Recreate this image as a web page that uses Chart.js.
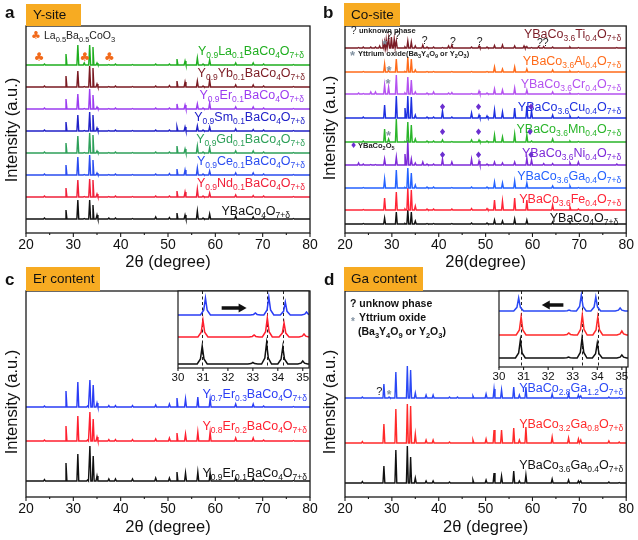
<!DOCTYPE html>
<html><head><meta charset="utf-8">
<script src="https://cdn.jsdelivr.net/npm/chart.js@4.4.1/dist/chart.umd.min.js"></script>
<style>
html,body{margin:0;padding:0;background:#fff;}
#wrap{position:relative;width:638px;height:540px;overflow:hidden;background:#fff;}
canvas{position:absolute;left:0;top:0;}
.box{position:absolute;background:#f7ab22;font:13.5px "Liberation Sans",Arial,sans-serif;color:#111;box-sizing:border-box;padding-left:7px;}
.lab{position:absolute;font:bold 17px "Liberation Sans",Arial,sans-serif;color:#111;line-height:20px;}
</style></head><body><div id="wrap">
<canvas id="ca" width="638" height="540"></canvas>
<canvas id="cb" width="638" height="540"></canvas>
<canvas id="cc" width="638" height="540"></canvas>
<canvas id="cd" width="638" height="540"></canvas>
<canvas id="ci" width="638" height="540"></canvas>
<canvas id="cj" width="638" height="540"></canvas>
<div class="lab" style="left:5px;top:3px">a</div>
<div class="box" style="left:26px;top:4px;width:55px;height:22px;line-height:22px">Y-site</div>
<div class="lab" style="left:323px;top:3px">b</div>
<div class="box" style="left:344px;top:3px;width:56px;height:23px;line-height:23px">Co-site</div>
<div class="lab" style="left:5px;top:270px">c</div>
<div class="box" style="left:26px;top:267px;width:74px;height:24px;line-height:24px">Er content</div>
<div class="lab" style="left:324px;top:270px">d</div>
<div class="box" style="left:344px;top:267px;width:79px;height:24px;line-height:24px">Ga content</div>
</div>
<script>
// ---------------- DATA ----------------
const xTicks = [20, 30, 40, 50, 60, 70, 80];
const insetTicks = [30, 31, 32, 33, 34, 35];

// Panel a : Y-site (2θ positions and intensities, a.u.)
const aPos = [23.9, 28.45, 30.95, 32.3, 33.45, 34.15, 35.0, 37.5, 38.9, 42.5, 47.4, 50.3, 51.9, 53.6, 56.2, 57.4, 58.8, 64.3, 68.0, 70.2, 76.5];
const aLa = [1, 11, 20, 2, 20, 18, 2, 0.5, 1, 0.5, 1, 1, 6, 4, 7, 1, 5, 2, 2, 1, 0.5];
const aYb = [1, 11, 16, 0.5, 21, 19, 3, 0.5, 1, 0.5, 1, 1.5, 6, 5, 6, 1, 7, 2, 2, 1, 0.5];
const aEr = [1, 10, 15, 0.5, 20, 14, 2, 0.5, 1, 0.5, 1, 1, 5, 4, 5, 1, 6, 2, 2, 1, 0.5];
const aSm = [1, 9, 16, 0.5, 19, 16, 3, 0.5, 1, 0.5, 1, 1, 4, 4, 5, 1, 4, 2, 1.5, 1, 0.5];
const aGd = [1, 10, 17, 0.5, 20, 18, 2, 0.5, 1, 0.5, 1, 1, 7, 4, 7, 1, 5, 2, 2, 1, 0.5];
const aCe = [1, 10, 18, 0.5, 20, 15, 2, 0.5, 1, 0.5, 1, 1.5, 6, 5, 7, 1, 4, 2, 2, 1, 0.5];
const aNd = [1, 9, 17, 0.5, 18, 17, 3, 0.5, 1, 0.5, 1, 1, 6, 5, 8, 1, 4, 2, 1.5, 1, 0.5];
const aY  = [1, 9, 19, 0.5, 19, 14, 4, 1, 1, 0.5, 2, 1.5, 6, 4, 8, 1, 5, 3, 2, 1, 0.5];
const aNames = ['Y_{0.9}La_{0.1}BaCo_{4}O_{7+δ}','Y_{0.9}Yb_{0.1}BaCo_{4}O_{7+δ}','Y_{0.9}Er_{0.1}BaCo_{4}O_{7+δ}','Y_{0.9}Sm_{0.1}BaCo_{4}O_{7+δ}','Y_{0.9}Gd_{0.1}BaCo_{4}O_{7+δ}','Y_{0.9}Ce_{0.1}BaCo_{4}O_{7+δ}','Y_{0.9}Nd_{0.1}BaCo_{4}O_{7+δ}','YBaCo_{4}O_{7+δ}'];
const aClubs = [22.75, 32.45, 37.6];

// Panel b : Co-site
const bPos = [22.9, 23.9, 25.5, 26.5, 27.4, 28.1, 28.45, 28.8, 29.3, 29.9, 30.5, 30.95, 32.8, 33.4, 34.15, 35.0, 36.6, 37.5, 38.9, 40.8, 42.1, 42.8, 47.0, 48.6, 50.3, 51.9, 53.6, 56.2, 58.2, 58.8, 59.8, 61.3, 62.4, 64.3, 68.0, 69.8, 78.0];
const bTi = [0.5,1,1,1,2,4,6,8,10,11,9,7,1,7,6,2,3,1,1,0.5,2,3,1,2,1,2.5,3,2,2,1.5,0.5,1.5,1.5,1,1,0.5,0.5];
const bAl = [0,0.5,0,0,0,0,8,0,1.5,0,0,13,0.5,15,13,2,0,0.5,0.5,0,0,0.5,0.5,0,0.5,5,3,5,0,3,0,0,0,2,1,0.5,0];
const bCr = [1,0.5,2,2,0,0,9,0,7,0,0,19,1,17,14,2,0,1,2,0,1,1.5,0.5,3,1,5,4,6,0,4,0,0,0,2,1,0.5,0];
const bCu = [0,1,0,0,0,0,13,0,0,0,0,22,10,22,21,3,0,1,1,7,0,1,5,3,2,8,6,10,0,12,7,0,0,3,2,1,0];
const bMn = [0,1,0,0,0,0,13,0,3,0,0,23,0.5,20,17,3,0,1,1,2,0,0.5,2,2,1,7,5,8,0,7,1,0,0,3,1,0.5,0];
const bNi = [2,1,0.5,0.5,0,0,6,0,0,0,0,8,11,25,6,2,3,1,1,6,0,3,6,4,1,3,2,3,0,7,5,0,1.5,1.5,2,3,1];
const bGa = [0,0.5,0,0,0,0,9,0,0,0,0,18,0.5,20,15,3,0,1,1,0,0,0.5,1,0,1,6,5,7,0,5,0,0,0,2,2,0.5,0];
const bFe = [0,0.5,0,0,0,0,12,0,0,0,0,18,1,22,20,4,0,1,1,0,0,1,1.5,0,1.5,10,9,12,0,10,0,0,0,5,3,1,0];
const bY  = [0,0.5,0,0,0,0,6,0,0,0,0,12,0.5,14,12,3,0,0.5,0.5,0,0,0.5,1,0,1,4,3,5,0,4,0,0,0,2,1.5,0.5,0];
const bNames = ['YBaCo_{3.6}Ti_{0.4}O_{7+δ}','YBaCo_{3.6}Al_{0.4}O_{7+δ}','YBaCo_{3.6}Cr_{0.4}O_{7+δ}','YBaCo_{3.6}Cu_{0.4}O_{7+δ}','YBaCo_{3.6}Mn_{0.4}O_{7+δ}','YBaCo_{3.6}Ni_{0.4}O_{7+δ}','YBaCo_{3.6}Ga_{0.4}O_{7+δ}','YBaCo_{3.6}Fe_{0.4}O_{7+δ}','YBaCo_{4}O_{7+δ}'];
const bUnknown = [29.4, 31.2, 37.0, 43.0, 48.75, 61.6, 62.8];
const bDiamonds = [40.8, 48.5, 59.7];

// Panel c : Er content
const cPos = [23.9, 28.45, 30.95, 33.0, 33.5, 34.2, 35.0, 37.5, 38.9, 42.5, 47.4, 50.3, 51.9, 53.7, 56.3, 58.9, 64.3, 68.0, 70.2, 76.5];
const cEr3 = [1, 16, 25, 1, 27, 22, 4, 1.5, 1.5, 1.5, 2, 3, 9, 8, 10, 8, 3, 3, 1, 0.5];
const cEr2 = [1, 15, 25, 1, 29, 22, 4, 1.5, 1.5, 1.5, 2, 3, 8, 7, 9, 9, 3, 3, 1, 0.5];
const cEr1 = [1.5, 18, 27, 1, 35, 25, 5, 2, 2, 2, 3, 3, 9, 8, 9, 8, 3, 3, 1, 0.5];
const cNames = ['Y_{0.7}Er_{0.3}BaCo_{4}O_{7+δ}','Y_{0.8}Er_{0.2}BaCo_{4}O_{7+δ}','Y_{0.9}Er_{0.1}BaCo_{4}O_{7+δ}'];
// inset c (30-35°)
const ciEr3Pos = [31.1, 33.1, 33.64, 34.3, 35.15];  const ciEr3 = [17, 2, 18, 13, 3];
const ciEr2Pos = [31.0, 33.05, 33.58, 34.25, 35.05]; const ciEr2 = [17, 2, 19, 14, 3];
const ciEr1Pos = [30.97, 33.0, 33.55, 34.2, 35.0];  const ciEr1 = [18, 1.5, 21, 17, 3];
const ciRef = [30.97, 33.55, 34.2];

// Panel d : Ga content
const dPos = [23.7, 28.3, 29.4, 30.85, 33.3, 34.0, 35.0, 37.3, 38.8, 42.3, 44.0, 47.3, 50.1, 51.8, 53.4, 56.0, 57.2, 58.6, 64.2, 67.7, 69.8, 70.3, 76.3, 78.5];
const dGa12 = [1, 14, 1, 26, 32, 28, 5, 3, 3, 1, 1, 2, 4, 9, 8, 11, 3, 11, 4, 4, 3, 2, 1, 0.5];
const dGa08 = [1.5, 19, 0, 34, 39, 37, 9, 3, 3, 1, 0, 3, 4, 13, 13, 15, 3, 16, 6, 5, 4, 3, 2, 1];
const dGa04 = [1.5, 17, 0, 33, 37, 26, 5, 2, 2, 1, 0, 3, 3, 10, 7, 12, 2, 8, 4, 3, 2, 2, 1, 0.5];
const dNames = ['YBaCo_{2.8}Ga_{1.2}O_{7+δ}','YBaCo_{3.2}Ga_{0.8}O_{7+δ}','YBaCo_{3.6}Ga_{0.4}O_{7+δ}'];
// inset d (30-35°)
const diGa12Pos = [30.8, 32.85, 33.35, 33.94, 34.93]; const diGa12 = [13, 1, 16, 14, 3];
const diGa08Pos = [30.9, 32.84, 33.39, 34.02, 35.0]; const diGa08 = [18, 2, 20, 18, 4];
const diGa04Pos = [30.87, 32.83, 33.38, 34.0, 35.0]; const diGa04 = [18, 1, 20, 15, 3];
const diRef = [30.9, 33.39, 34.02];

// ---------------- RENDER ----------------
const FONT = '"Liberation Sans", Arial, Helvetica, sans-serif';
const SYM = '"DejaVu Sans", sans-serif';

function trace(pos, vals, base, w, xmin, xmax, shaped){
  const pts = [{x:xmin, y:base}];
  pos.forEach((p,i)=>{ const h = vals[i]; if(!h) return;
    if(shaped) pts.push({x:p-w,y:base},{x:p-w*0.35,y:base+h*0.28},{x:p,y:base+h},{x:p+w*0.35,y:base+h*0.28},{x:p+w,y:base});
    else pts.push({x:p-w,y:base},{x:p,y:base+h},{x:p+w,y:base});
  });
  pts.push({x:xmax, y:base});
  return pts;
}
function parseRich(s){ const out=[]; const re=/_\{([^}]*)\}/g; let last=0,m;
  while((m=re.exec(s))){ if(m.index>last) out.push({t:s.slice(last,m.index),sub:false}); out.push({t:m[1],sub:true}); last=re.lastIndex; }
  if(last<s.length) out.push({t:s.slice(last),sub:false}); return out; }
function drawRich(ctx, s, x, y, o){
  const parts = parseRich(s);
  const setF = p => ctx.font = (o.bold?'bold ':'') + (p.sub?o.sub:o.size) + 'px ' + (o.family||FONT);
  let total = 0; parts.forEach(p=>{ setF(p); total += ctx.measureText(p.t).width; });
  let cx = o.align==='right' ? x-total : (o.align==='center' ? x-total/2 : x);
  ctx.fillStyle = o.color || '#111'; ctx.textAlign='left'; ctx.textBaseline='alphabetic';
  parts.forEach(p=>{ setF(p); ctx.fillText(p.t, cx, y + (p.sub?(o.subDy||3):0)); cx += ctx.measureText(p.t).width; });
}
function deco(P){ return { id:'deco',
  beforeDatasetsDraw(chart){ const c=chart.ctx, a=chart.chartArea; c.save();
    if(P.white){ c.fillStyle='#fff'; c.fillRect(a.left,a.top,a.right-a.left,a.bottom-a.top); }
    if(P.dashed){ c.setLineDash([3,2.5]); c.strokeStyle='#222'; c.lineWidth=1;
      P.dashed.forEach(v=>{ const x=Math.round(chart.scales.x.getPixelForValue(v))+0.5; c.beginPath(); c.moveTo(x,a.top); c.lineTo(x,a.bottom); c.stroke(); }); }
    c.restore(); },
  afterDraw(chart){ const c=chart.ctx, a=chart.chartArea, sx=chart.scales.x, sy=chart.scales.y; c.save();
    c.strokeStyle='#1a1a1a'; c.lineWidth=P.frameW; c.setLineDash([]);
    c.strokeRect(a.left, a.top, a.right-a.left, a.bottom-a.top);
    c.lineWidth=1.1;
    (P.major||[]).forEach(v=>{ const x=sx.getPixelForValue(v); c.beginPath(); c.moveTo(x,a.bottom); c.lineTo(x,a.bottom+P.majLen); c.stroke(); });
    (P.minor||[]).forEach(v=>{ const x=sx.getPixelForValue(v); c.beginPath(); c.moveTo(x,a.bottom); c.lineTo(x,a.bottom+P.minLen); c.stroke(); });
    (P.names||[]).forEach((n,i)=>{ const y=sy.getPixelForValue(P.offsets[i]) - P.lifts[i];
      drawRich(c, n, a.right - P.rpads[i], y, {size:12.5, sub:8.5, subDy:3, color:P.colors[i], align:'right'}); });
    (P.markers||[]).forEach(m=>{ c.font=m.font; c.fillStyle=m.color; c.textAlign='center'; c.textBaseline='middle';
      c.fillText(m.ch, sx.getPixelForValue(m.x), sy.getPixelForValue(m.y) + (m.dy||0)); });
    (P.texts||[]).forEach(t=>drawRich(c, t.s, t.x, t.y, t));
    if(P.arrow){ const A=P.arrow, x1=sx.getPixelForValue(A.from), x2=sx.getPixelForValue(A.to), y=sy.getPixelForValue(A.y), d=Math.sign(x2-x1);
      c.strokeStyle='#111'; c.fillStyle='#111'; c.lineWidth=3.5; c.beginPath(); c.moveTo(x1,y); c.lineTo(x2-d*6,y); c.stroke();
      c.beginPath(); c.moveTo(x2,y); c.lineTo(x2-d*8,y-4.5); c.lineTo(x2-d*8,y+4.5); c.closePath(); c.fill(); }
    if(P.xTitle){ c.font='16.5px '+FONT; c.fillStyle='#111'; c.textAlign='center'; c.textBaseline='middle';
      c.fillText(P.xTitle, (a.left+a.right)/2, a.bottom + P.xTitleDy); }
    if(P.yTitle){ c.translate(P.yTitle.x, P.yTitle.y); c.rotate(-Math.PI/2); c.font='16.5px '+FONT; c.fillStyle='#111';
      c.textAlign='center'; c.textBaseline='middle'; c.fillText('Intensity (a.u.)', 0, 0); }
    c.restore(); } }; }

function build(id, P){
  const A=P.area, H=A.b-A.t;
  const datasets = P.vals.map((v,i)=>({ data: trace(P.pos[i], v, P.offsets[i], P.w, P.xmin, P.xmax, P.shaped),
    borderColor:P.colors[i], borderWidth:P.lw, pointRadius:0, showLine:true, fill:false, tension:0 }));
  new Chart(document.getElementById(id), { type:'scatter', data:{datasets},
    options:{ responsive:false, animation:false, events:[], devicePixelRatio:1,
      layout:{padding:{left:A.l, right:638-A.r, top:A.t, bottom:540-A.b-P.axisH}},
      plugins:{legend:{display:false}, tooltip:{enabled:false}},
      scales:{
        x:{type:'linear', min:P.xmin, max:P.xmax, grid:{display:false, drawTicks:false}, border:{display:false},
           ticks:{stepSize:P.step, includeBounds:false, autoSkip:false, maxRotation:0, minRotation:0, color:'#111',
                  font:{family:FONT, size:P.tickSize}, padding:P.tickPad},
           afterFit(s){ s.height = P.axisH; } },
        y:{type:'linear', display:false, min:0, max:H}
      } },
    plugins:[deco(P)] });
}
const minorMain = [25,35,45,55,65,75];
const rep = (a,n)=>Array(n).fill(a);

// panel a
build('ca', { area:{l:26,r:310,t:26,b:233}, axisH:22, xmin:20, xmax:80, step:10, tickSize:14, tickPad:4, w:0.2, lw:1.4, frameW:1.3,
  pos:rep(aPos,8), vals:[aLa,aYb,aEr,aSm,aGd,aCe,aNd,aY],
  colors:['#1fae1f','#7a1a22','#9b3cf0','#2020c8','#2ea05a','#2a4cf0','#f0203a','#111111'],
  offsets:[168,146,124,102,80,58,36,14], lifts:[10,10,10,10,10,10,10,4], rpads:[6,5,6,5,5,5,5,20],
  names:aNames, major:xTicks, minor:minorMain, majLen:4, minLen:2,
  markers: aClubs.map(x=>({ch:'♣', x, y:175, font:'12px '+SYM, color:'#f26a1b'})),
  texts:[{s:'♣', x:31, y:39, size:11, sub:7, family:SYM, color:'#f26a1b'},
         {s:'La_{0.5}Ba_{0.5}CoO_{3}', x:44, y:39, size:10.5, sub:7.5, subDy:2.5, color:'#222'}],
  xTitle:'2θ (degree)', xTitleDy:29, yTitle:{x:12, y:130} });

// panel b
build('cb', { area:{l:345,r:628,t:26,b:233}, axisH:22, xmin:20, xmax:80, step:10, tickSize:14, tickPad:4, w:0.2, lw:1.4, frameW:1.3,
  pos:rep(bPos,9), vals:[bTi,bAl,bCr,bCu,bMn,bNi,bGa,bFe,bY],
  colors:['#7b1c26','#ff6b1a','#b452f0','#1d2fe0','#2ab52a','#7d2ad8','#2462ff','#ff2436','#111111'],
  offsets:[185,161,139,115,91,68,45,23,9], lifts:[10.5,7.5,6.5,7.5,9.5,8.5,8.5,7.5,2.5], rpads:[5,5,5,5,5,5,5,5,8],
  names:bNames, major:xTicks, minor:minorMain, majLen:4, minLen:2,
  markers: bUnknown.map((x,i)=>({ch:'?', x, y:[197,197,192,191,191,190,190][i], font:'10.5px '+FONT, color:'#222'}))
    .concat([{x:28.5,y:191},{x:29.4,y:165},{x:29.2,y:152},{x:29.3,y:100}].map(m=>({ch:'*', x:m.x, y:m.y, dy:3, font:'bold 13px '+FONT, color:'#8292a2'})))
    .concat(bDiamonds.map(x=>({ch:'♦', x, y:125, font:'9px '+SYM, color:'#6b2fd0'})))
    .concat([40.8,48.5,59.5].map(x=>({ch:'♦', x, y:100, font:'9px '+SYM, color:'#6b2fd0'})))
    .concat(bDiamonds.map(x=>({ch:'♦', x, y:77, font:'9px '+SYM, color:'#6b2fd0'}))),
  texts:[{s:'?', x:351, y:34, size:10, sub:7, color:'#222'},
         {s:'unknown phase', x:359, y:33, size:7.5, sub:6, bold:true, color:'#222'},
         {s:'*', x:350, y:60, size:13, sub:8, bold:true, color:'#8292a2'},
         {s:'Yttrium oxide(Ba_{3}Y_{4}O_{9} or Y_{2}O_{3})', x:358, y:56, size:7.5, sub:5.5, subDy:2, bold:true, color:'#222'},
         {s:'♦', x:350, y:148, size:8, sub:6, family:SYM, color:'#6b2fd0'},
         {s:'YBaCo_{2}O_{5}', x:358, y:148, size:7.5, sub:5.5, subDy:2, bold:true, color:'#222'}],
  xTitle:'2θ(degree)', xTitleDy:29, yTitle:{x:330, y:128} });

// panel c
build('cc', { area:{l:26,r:310,t:291,b:497}, axisH:22, xmin:20, xmax:80, step:10, tickSize:14, tickPad:4, w:0.2, lw:1.4, frameW:1.3,
  pos:rep(cPos,3), vals:[cEr3,cEr2,cEr1], colors:['#2a3cf5','#ff1f2f','#111111'],
  offsets:[90,56,16], lifts:[9.5,11.5,4.5], rpads:[3,3,3], names:cNames, major:xTicks, minor:minorMain, majLen:4, minLen:2,
  xTitle:'2θ (degree)', xTitleDy:30, yTitle:{x:12, y:402} });

// panel d
build('cd', { area:{l:345,r:628,t:291,b:497}, axisH:22, xmin:20, xmax:80, step:10, tickSize:14, tickPad:4, w:0.2, lw:1.4, frameW:1.3,
  pos:rep(dPos,3), vals:[dGa12,dGa08,dGa04], colors:['#2a48f5','#ff2a2a','#111111'],
  offsets:[99,54,14], lifts:[6.5,15.5,14.5], rpads:[3,3,3], names:dNames, major:xTicks, minor:minorMain, majLen:4, minLen:2,
  markers:[{ch:'?', x:27.3, y:105, font:'11px '+FONT, color:'#222'},{ch:'*', x:29.4, y:104, dy:3, font:'bold 12px '+FONT, color:'#8292a2'}],
  texts:[{s:'? unknow phase', x:350, y:307, size:10.5, sub:8, bold:true, color:'#111'},
         {s:'*', x:351, y:325, size:10, sub:8, bold:true, color:'#8292a2'},
         {s:'Yttrium oxide', x:359, y:321, size:10.5, sub:8, bold:true, color:'#111'},
         {s:'(Ba_{3}Y_{4}O_{9} or Y_{2}O_{3})', x:358, y:335, size:10.5, sub:7.5, subDy:2.5, bold:true, color:'#111'}],
  xTitle:'2θ (degree)', xTitleDy:30, yTitle:{x:330, y:402} });

// inset c
build('ci', { area:{l:178,r:309,t:291,b:368}, axisH:16, xmin:30, xmax:35.25, step:1, tickSize:11.5, tickPad:3, w:0.2, lw:1.5, frameW:1.2, shaped:true, white:true,
  pos:[ciEr3Pos,ciEr2Pos,ciEr1Pos], vals:[ciEr3,ciEr2,ciEr1], colors:['#2a3cf5','#ff1f2f','#111111'], offsets:[53,31,4],
  major:insetTicks, majLen:3, dashed:ciRef, arrow:{from:31.75, to:32.75, y:60} });

// inset d
build('cj', { area:{l:499,r:628,t:291,b:367}, axisH:16, xmin:30, xmax:35.25, step:1, tickSize:11.5, tickPad:3, w:0.2, lw:1.5, frameW:1.2, shaped:true, white:true,
  pos:[diGa12Pos,diGa08Pos,diGa04Pos], vals:[diGa12,diGa08,diGa04], colors:['#2a48f5','#ff2a2a','#111111'], offsets:[56,32,9],
  major:insetTicks, majLen:3, dashed:diRef, arrow:{from:32.62, to:31.74, y:62} });
</script></body></html>
